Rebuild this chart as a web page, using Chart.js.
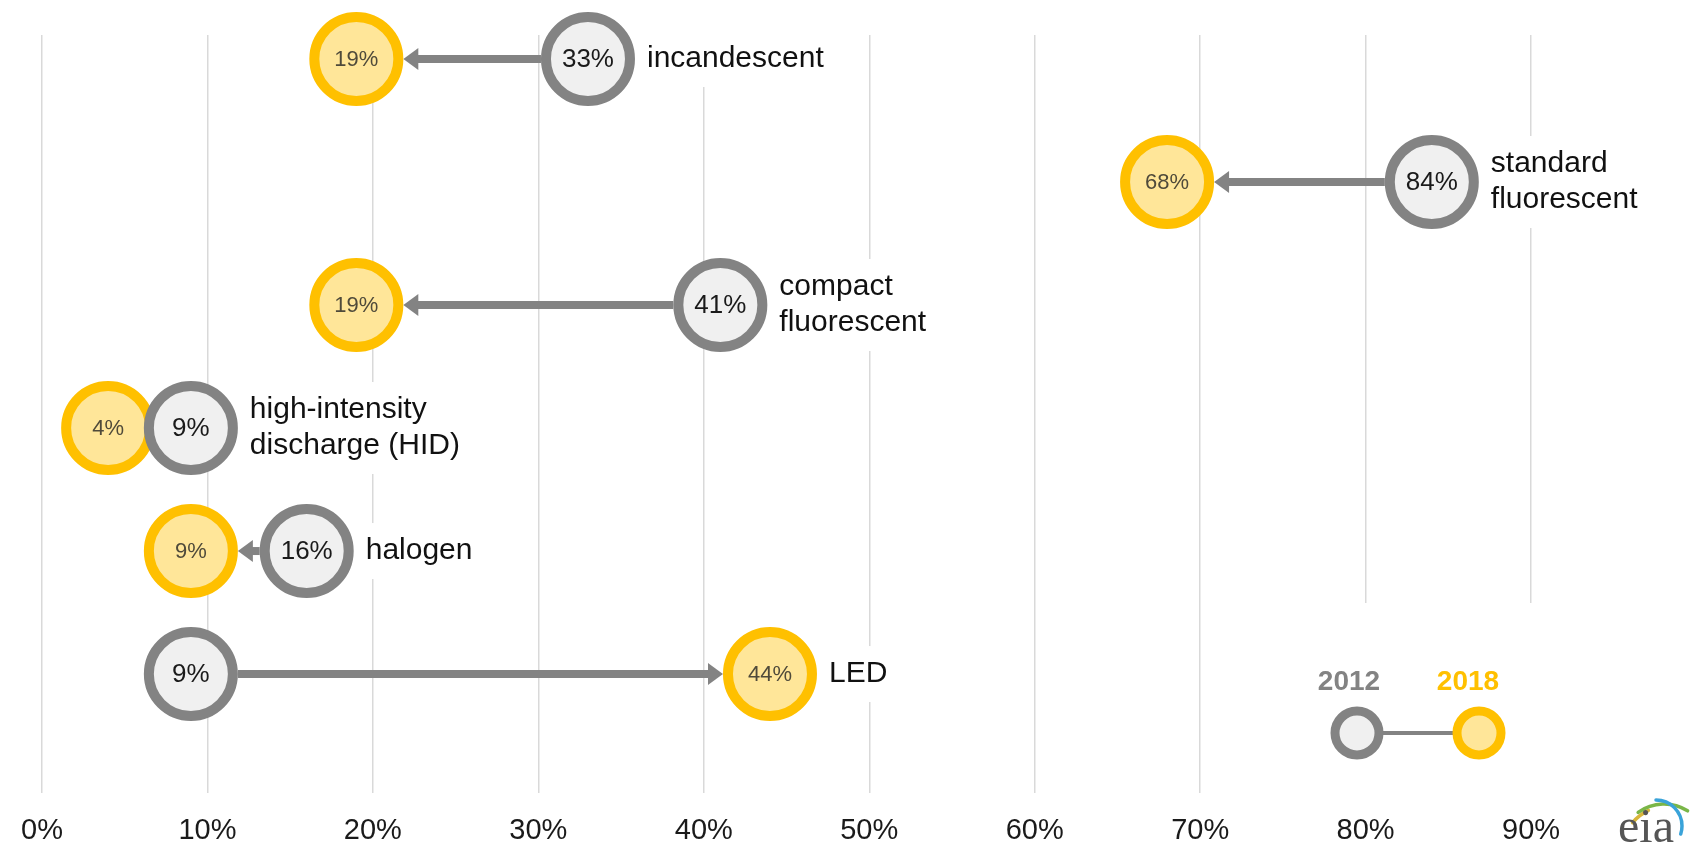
<!DOCTYPE html>
<html>
<head>
<meta charset="utf-8">
<title>Commercial lighting types</title>
<script src="https://cdn.jsdelivr.net/npm/chart.js@4.4.0/dist/chart.umd.min.js"></script>
<style>
  html, body { margin: 0; padding: 0; background: #fff; }
  #wrap { width: 1691px; height: 846px; }
</style>
</head>
<body>
<div id="wrap"><canvas id="lighting-chart" width="1691" height="846"></canvas></div>
<script>
// share of floorspace lit by each lamp type, 2012 vs 2018
const categories = [
  ['incandescent'],
  ['standard', 'fluorescent'],
  ['compact', 'fluorescent'],
  ['high-intensity', 'discharge (HID)'],
  ['halogen'],
  ['LED']
];
const share2012 = [33, 84, 41, 9, 16, 9];
const share2018 = [19, 68, 19, 4, 9, 44];
const xTicks = [0, 10, 20, 30, 40, 50, 60, 70, 80, 90];
const tickLabels = ['0%', '10%', '20%', '30%', '40%', '50%', '60%', '70%', '80%', '90%'];
const years = ['2012', '2018'];

const GRAY = '#838383';
const GRAY_FILL = '#f0f0f0';
const GOLD = '#ffc000';
const GOLD_FILL = '#ffe699';
const FONT = "'Liberation Sans', Arial, sans-serif";

const DOT_R = 42;
const DOT_BORDER = 10;
const OUTER_R = DOT_R + DOT_BORDER / 2;
const LINE_H = 36;

function labelBox(ctx, lines, x, y) {
  ctx.font = '30px ' + FONT;
  const w = Math.max(...lines.map(l => ctx.measureText(l).width));
  const h = lines.length * LINE_H;
  return { x: x - 4, y: y - h / 2 - 10, w: w + 8, h: h + 20 };
}

const decor = {
  id: 'decor',
  beforeDatasetsDraw(chart) {
    const { ctx, scales: { x, y }, chartArea } = chart;
    ctx.save();
    // white patches behind the row labels and the key
    ctx.fillStyle = '#fff';
    categories.forEach((lines, i) => {
      const lx = x.getPixelForValue(Math.max(share2012[i], share2018[i])) + OUTER_R + 12;
      const b = labelBox(ctx, lines, lx, y.getPixelForValue(i));
      ctx.fillRect(b.x, b.y, b.w, b.h);
    });
    ctx.fillRect(chartArea.right - 390, chartArea.bottom - 190, 280, 200);

    // arrows from 2012 to 2018
    ctx.fillStyle = GRAY;
    ctx.strokeStyle = GRAY;
    share2012.forEach((v, i) => {
      const x0 = x.getPixelForValue(v);
      const x1 = x.getPixelForValue(share2018[i]);
      const py = y.getPixelForValue(i);
      const dir = Math.sign(x1 - x0);
      const start = x0 + dir * OUTER_R;
      const tip = x1 - dir * OUTER_R;
      if ((tip - start) * dir <= 2) return;
      const head = Math.min(15, Math.abs(tip - start));
      ctx.lineWidth = 8;
      ctx.beginPath();
      ctx.moveTo(start, py);
      ctx.lineTo(tip - dir * (head - 1), py);
      ctx.stroke();
      ctx.beginPath();
      ctx.moveTo(tip, py);
      ctx.lineTo(tip - dir * head, py - 11);
      ctx.lineTo(tip - dir * head, py + 11);
      ctx.closePath();
      ctx.fill();
    });
    ctx.restore();
  },
  afterDatasetsDraw(chart) {
    const { ctx, scales: { x, y }, chartArea } = chart;
    ctx.save();
    ctx.textAlign = 'center';
    ctx.textBaseline = 'middle';
    share2012.forEach((v, i) => {
      const py = y.getPixelForValue(i);
      ctx.font = '26px ' + FONT;
      ctx.fillStyle = '#1a1a1a';
      ctx.fillText(v + '%', x.getPixelForValue(v), py + 1);
      ctx.font = '22px ' + FONT;
      ctx.fillStyle = '#4f4a3a';
      ctx.fillText(share2018[i] + '%', x.getPixelForValue(share2018[i]), py + 1);
    });

    // row labels
    ctx.textAlign = 'left';
    ctx.font = '30px ' + FONT;
    ctx.fillStyle = '#111';
    categories.forEach((lines, i) => {
      const lx = x.getPixelForValue(Math.max(share2012[i], share2018[i])) + OUTER_R + 12;
      const py = y.getPixelForValue(i);
      lines.forEach((l, k) => {
        ctx.fillText(l, lx, py + (k - (lines.length - 1) / 2) * LINE_H);
      });
    });

    // key
    const kx0 = chartArea.right - 323;
    const kx1 = chartArea.right - 201;
    const ky = chartArea.bottom - 60;
    ctx.strokeStyle = GRAY;
    ctx.lineWidth = 4;
    ctx.beginPath();
    ctx.moveTo(kx0, ky);
    ctx.lineTo(kx1, ky);
    ctx.stroke();
    [[kx0, GRAY, GRAY_FILL], [kx1, GOLD, GOLD_FILL]].forEach(([cx, stroke, fill]) => {
      ctx.beginPath();
      ctx.arc(cx, ky, 22, 0, Math.PI * 2);
      ctx.fillStyle = fill;
      ctx.fill();
      ctx.lineWidth = 9;
      ctx.strokeStyle = stroke;
      ctx.stroke();
    });
    ctx.textAlign = 'center';
    ctx.font = 'bold 28px ' + FONT;
    ctx.fillStyle = GRAY;
    ctx.fillText(years[0], kx0 - 8, ky - 51);
    ctx.fillStyle = GOLD;
    ctx.fillText(years[1], kx1 - 11, ky - 51);

    // eia mark
    const ex = 1646, ey = 842;
    ctx.lineCap = 'round';
    ctx.lineWidth = 3.5;
    ctx.strokeStyle = '#d8b53a';
    ctx.beginPath();
    ctx.arc(ex + 22, ey + 10, 46, Math.PI * 1.22, Math.PI * 1.36);
    ctx.stroke();
    ctx.strokeStyle = '#7ab648';
    ctx.beginPath();
    ctx.arc(ex + 18, ey + 6, 44, Math.PI * 1.3, Math.PI * 1.68);
    ctx.stroke();
    ctx.strokeStyle = '#3aa3d9';
    ctx.beginPath();
    ctx.arc(ex + 10, ey - 16, 26, Math.PI * 1.5, Math.PI * 2.1);
    ctx.stroke();
    ctx.font = "48px 'Liberation Serif', 'Times New Roman', serif";
    ctx.fillStyle = '#555';
    ctx.textAlign = 'center';
    ctx.textBaseline = 'alphabetic';
    ctx.fillText('eia', ex, ey);
    ctx.restore();
  }
};

const toPoints = arr => arr.map((v, i) => ({ x: v, y: i }));

new Chart(document.getElementById('lighting-chart'), {
  type: 'scatter',
  data: {
    datasets: [
      {
        label: years[0],
        data: toPoints(share2012),
        pointRadius: DOT_R,
        borderWidth: DOT_BORDER,
        borderColor: GRAY,
        backgroundColor: GRAY_FILL,
        clip: false
      },
      {
        label: years[1],
        data: toPoints(share2018),
        pointRadius: DOT_R,
        borderWidth: DOT_BORDER,
        borderColor: GOLD,
        backgroundColor: GOLD_FILL,
        clip: false
      }
    ]
  },
  options: {
    responsive: false,
    animation: false,
    events: [],
    layout: { autoPadding: false, padding: { left: 38, right: 11, top: 35, bottom: 0 } },
    plugins: { legend: { display: false }, tooltip: { enabled: false } },
    scales: {
      x: {
        type: 'linear',
        min: 0,
        max: 99,
        afterBuildTicks: s => { s.ticks = xTicks.map(v => ({ value: v })); },
        afterFit: s => { s.height = 53; },
        border: { display: false },
        grid: { color: '#d9d9d9', lineWidth: 1.5, drawTicks: false },
        ticks: {
          padding: 21,
          maxRotation: 0,
          color: '#1a1a1a',
          font: { family: FONT, size: 29 },
          callback: v => tickLabels[xTicks.indexOf(v)]
        }
      },
      y: {
        type: 'linear',
        display: false,
        reverse: true,
        min: -0.195,
        max: 5.967
      }
    }
  },
  plugins: [decor]
});
</script>
</body>
</html>
